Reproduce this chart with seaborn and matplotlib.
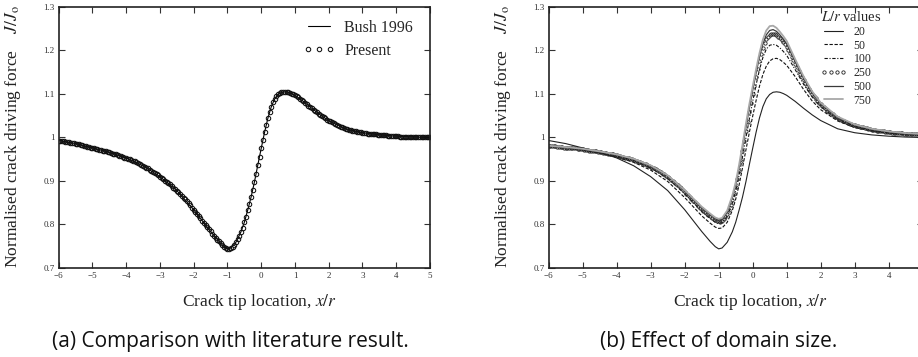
import numpy as np
import matplotlib
matplotlib.use('Agg')
import matplotlib.pyplot as plt
import seaborn as sns

sns.set_style('ticks')
plt.rcParams['font.family'] = ['Liberation Serif', 'DejaVu Serif']
plt.rcParams['mathtext.fontset'] = 'stix'
plt.rcParams['axes.linewidth'] = 1.2

#%% data
# sample positions (x/r) of the densely sampled "Present" and L/r=250 series
x_fine = np.round(np.arange(-6.0, 5.001, 0.05), 2)

# sample positions of the plain line series
x_line = [-6, -5.5, -5, -4.5, -4, -3.5, -3, -2.5, -2, -1.75, -1.5, -1.25, -1.1, -1,
          -0.9, -0.75, -0.6, -0.5, -0.4, -0.3, -0.2, -0.1, 0, 0.1, 0.2, 0.3, 0.4,
          0.5, 0.6, 0.7, 0.8, 0.9, 1.0, 1.25, 1.5, 1.75, 2, 2.5, 3, 3.5, 4, 4.5, 5]

# (a) Bush 1996 (also the L/r = 20 curve of panel b)
j_bush = [0.993, 0.986, 0.976, 0.966, 0.953, 0.935, 0.910, 0.878, 0.834, 0.809, 0.784,
          0.761, 0.749, 0.744, 0.746, 0.759, 0.783, 0.805, 0.833, 0.863, 0.898, 0.937,
          0.975, 1.012, 1.045, 1.071, 1.089, 1.099, 1.104, 1.105, 1.104, 1.101, 1.097,
          1.083, 1.067, 1.052, 1.039, 1.020, 1.011, 1.006, 1.003, 1.001, 1.000]

# (a) Present
j_present = [
    # -6.00 .. -1.00
    0.993, 0.993, 0.992, 0.991, 0.990, 0.990, 0.989, 0.988, 0.987, 0.987,
    0.986, 0.985, 0.984, 0.983, 0.982, 0.981, 0.980, 0.979, 0.978, 0.977,
    0.976, 0.975, 0.974, 0.973, 0.972, 0.971, 0.970, 0.969, 0.968, 0.967,
    0.966, 0.965, 0.963, 0.962, 0.961, 0.960, 0.958, 0.957, 0.956, 0.954,
    0.953, 0.951, 0.950, 0.948, 0.946, 0.945, 0.943, 0.941, 0.939, 0.937,
    0.935, 0.933, 0.931, 0.929, 0.926, 0.924, 0.921, 0.919, 0.916, 0.913,
    0.910, 0.907, 0.904, 0.901, 0.898, 0.895, 0.892, 0.889, 0.885, 0.882,
    0.878, 0.874, 0.870, 0.866, 0.862, 0.858, 0.853, 0.849, 0.844, 0.839,
    0.834, 0.829, 0.824, 0.819, 0.814, 0.809, 0.804, 0.799, 0.794, 0.789,
    0.784, 0.779, 0.774, 0.770, 0.765, 0.761, 0.757, 0.753, 0.749, 0.746,
    0.744,
    # -0.95 .. 0.95
    0.743, 0.746, 0.749, 0.753, 0.759, 0.766, 0.774, 0.783, 0.793, 0.805,
    0.818, 0.833, 0.848, 0.863, 0.880, 0.898, 0.917, 0.937, 0.956, 0.975,
    0.994, 1.012, 1.029, 1.045, 1.059, 1.071, 1.081, 1.089, 1.095, 1.099,
    1.102, 1.104, 1.105, 1.105, 1.105, 1.104, 1.103, 1.101, 1.099,
    # 1.00 .. 5.00
    1.097, 1.095, 1.092, 1.089, 1.086, 1.083, 1.080, 1.077, 1.073, 1.070,
    1.067, 1.064, 1.061, 1.058, 1.055, 1.052, 1.049, 1.047, 1.044, 1.041,
    1.039, 1.037, 1.035, 1.033, 1.031, 1.029, 1.027, 1.025, 1.023, 1.022,
    1.020, 1.019, 1.018, 1.017, 1.016, 1.015, 1.014, 1.013, 1.012, 1.012,
    1.011, 1.010, 1.010, 1.009, 1.009, 1.008, 1.008, 1.007, 1.007, 1.006,
    1.006, 1.006, 1.005, 1.005, 1.005, 1.004, 1.004, 1.004, 1.003, 1.003,
    1.003, 1.003, 1.002, 1.002, 1.002, 1.002, 1.002, 1.001, 1.001, 1.001,
    1.001, 1.001, 1.001, 1.001, 1.001, 1.000, 1.000, 1.000, 1.000, 1.000,
    1.000]

# (b) effect of domain size
j_l20 = j_bush
j_l50 = [0.981, 0.977, 0.971, 0.964, 0.955, 0.943, 0.925, 0.899, 0.862, 0.841, 0.820,
         0.803, 0.794, 0.791, 0.792, 0.805, 0.832, 0.858, 0.891, 0.930, 0.971, 1.011,
         1.049, 1.085, 1.118, 1.145, 1.164, 1.176, 1.181, 1.182, 1.179, 1.173, 1.166,
         1.140, 1.110, 1.084, 1.064, 1.038, 1.023, 1.015, 1.010, 1.007, 1.006]
j_l100 = [0.981, 0.977, 0.972, 0.966, 0.958, 0.947, 0.930, 0.906, 0.871, 0.851, 0.830,
          0.814, 0.805, 0.802, 0.804, 0.819, 0.849, 0.877, 0.913, 0.955, 0.999, 1.042,
          1.083, 1.121, 1.156, 1.184, 1.203, 1.212, 1.214, 1.212, 1.206, 1.198, 1.189,
          1.156, 1.122, 1.093, 1.071, 1.042, 1.026, 1.017, 1.011, 1.008, 1.006]
j_l250 = [
    # -6.00 .. -1.00
    0.981, 0.981, 0.980, 0.980, 0.980, 0.979, 0.979, 0.978, 0.978, 0.977,
    0.977, 0.976, 0.976, 0.975, 0.975, 0.975, 0.975, 0.974, 0.974, 0.973,
    0.973, 0.972, 0.972, 0.971, 0.970, 0.970, 0.969, 0.968, 0.968, 0.967,
    0.967, 0.966, 0.965, 0.964, 0.964, 0.963, 0.962, 0.961, 0.961, 0.960,
    0.959, 0.958, 0.957, 0.956, 0.955, 0.954, 0.953, 0.952, 0.951, 0.950,
    0.949, 0.947, 0.946, 0.944, 0.943, 0.941, 0.940, 0.938, 0.937, 0.935,
    0.933, 0.931, 0.929, 0.927, 0.925, 0.922, 0.920, 0.917, 0.915, 0.912,
    0.909, 0.906, 0.903, 0.900, 0.897, 0.893, 0.890, 0.886, 0.883, 0.879,
    0.875, 0.871, 0.867, 0.863, 0.859, 0.855, 0.851, 0.847, 0.843, 0.839,
    0.835, 0.831, 0.828, 0.825, 0.822, 0.819, 0.816, 0.813, 0.810, 0.808,
    0.807,
    # -0.95 .. 0.95
    0.806, 0.809, 0.813, 0.818, 0.825, 0.834, 0.845, 0.857, 0.871, 0.886,
    0.904, 0.924, 0.946, 0.968, 0.991, 1.014, 1.036, 1.058, 1.079, 1.099,
    1.119, 1.139, 1.158, 1.176, 1.192, 1.205, 1.217, 1.226, 1.232, 1.236,
    1.238, 1.238, 1.237, 1.235, 1.232, 1.228, 1.224, 1.219, 1.214,
    # 1.00 .. 5.00
    1.209, 1.202, 1.194, 1.186, 1.178, 1.170, 1.162, 1.154, 1.147, 1.139,
    1.132, 1.125, 1.119, 1.112, 1.106, 1.100, 1.095, 1.090, 1.085, 1.080,
    1.076, 1.072, 1.069, 1.065, 1.062, 1.059, 1.056, 1.053, 1.050, 1.047,
    1.045, 1.043, 1.041, 1.039, 1.037, 1.035, 1.034, 1.032, 1.031, 1.029,
    1.028, 1.027, 1.026, 1.025, 1.024, 1.023, 1.022, 1.021, 1.020, 1.019,
    1.018, 1.018, 1.017, 1.016, 1.016, 1.015, 1.014, 1.014, 1.013, 1.013,
    1.012, 1.012, 1.011, 1.011, 1.011, 1.010, 1.010, 1.010, 1.010, 1.009,
    1.009, 1.009, 1.009, 1.008, 1.008, 1.008, 1.008, 1.007, 1.007, 1.007,
    1.007]
j_l500 = [0.981, 0.978, 0.973, 0.967, 0.960, 0.950, 0.934, 0.911, 0.877, 0.857, 0.838,
          0.822, 0.813, 0.810, 0.812, 0.828, 0.861, 0.891, 0.930, 0.975, 1.022, 1.067,
          1.108, 1.148, 1.185, 1.215, 1.236, 1.246, 1.248, 1.244, 1.236, 1.226, 1.215,
          1.174, 1.135, 1.102, 1.077, 1.046, 1.029, 1.019, 1.013, 1.009, 1.007]
j_l750 = [0.981, 0.978, 0.974, 0.968, 0.961, 0.951, 0.936, 0.913, 0.879, 0.860, 0.841,
          0.825, 0.816, 0.813, 0.815, 0.832, 0.866, 0.897, 0.937, 0.983, 1.031, 1.076,
          1.117, 1.157, 1.194, 1.225, 1.246, 1.256, 1.257, 1.252, 1.243, 1.233, 1.222,
          1.180, 1.140, 1.106, 1.080, 1.048, 1.030, 1.020, 1.014, 1.010, 1.008]

y_ticks = [0.7, 0.8, 0.9, 1.0, 1.1, 1.2, 1.3]
y_ticklabels = ['0.7', '0.8', '0.9', '1', '1.1', '1.2', '1.3']
x_ticks = [-6, -5, -4, -3, -2, -1, 0, 1, 2, 3, 4, 5]
x_ticklabels = ['\u22126', '\u22125', '\u22124', '\u22123', '\u22122', '\u22121',
                '0', '1', '2', '3', '4', '5']

#%% figure
fig = plt.figure(figsize=(9.18, 3.57), dpi=100)
ax_a = fig.add_axes([0.0639, 0.2493, 0.4045, 0.7311])
ax_b = fig.add_axes([0.5977, 0.2493, 0.4074, 0.7311])

ylab = 'Normalised crack driving force    $J/J_{\\rm o}$'
for ax in (ax_a, ax_b):
    ax.set_xlim(-6, 5)
    ax.set_ylim(0.7, 1.3)
    ax.set_xticks(x_ticks)
    ax.set_xticklabels(x_ticklabels)
    ax.set_yticks(y_ticks)
    ax.set_yticklabels(y_ticklabels)
    ax.tick_params(direction='in', top=True, right=True, length=4, width=0.8,
                   labelsize=6.5, pad=3, colors='#333333', labelcolor='#333333')
    ax.set_xlabel('Crack tip location, $x/r$', fontsize=12.5, color='#222222')
    ax.set_ylabel(ylab, fontsize=12.5, color='#222222')
    ax.xaxis.set_label_coords(0.54, -0.13)
    ax.xaxis.label.set_va('center')
    ax.yaxis.set_label_coords(-0.123, 0.505)
    ax.yaxis.label.set_va('center')
    for sp in ax.spines.values():
        sp.set_color('#222222')

# (a)
sns.lineplot(x=x_line, y=j_bush, ax=ax_a, color='k', lw=0.8, estimator=None,
             sort=False, label='Bush 1996')
sns.lineplot(x=x_fine, y=j_present, ax=ax_a, color='k', linestyle='none', marker='o',
             markersize=3.2, markerfacecolor='none', markeredgecolor='#111111',
             markeredgewidth=0.75, estimator=None, sort=False, label='Present')
ax_a.legend(loc='upper left', bbox_to_anchor=(0.330, 0.945), bbox_transform=fig.transFigure,
            frameon=False, fontsize=11.5, numpoints=3, handlelength=2.0,
            handletextpad=0.6, labelspacing=0.45, borderpad=0, borderaxespad=0)

# (b)
sns.lineplot(x=x_line, y=j_l20, ax=ax_b, color='#222222', lw=0.8, estimator=None,
             sort=False, label='20')
sns.lineplot(x=x_line, y=j_l50, ax=ax_b, color='#111111', lw=0.8, linestyle=(0, (3, 1.5)),
             estimator=None, sort=False, label='50')
sns.lineplot(x=x_line, y=j_l100, ax=ax_b, color='#111111', lw=0.8,
             linestyle=(0, (3, 1.5, 1, 1.5)), estimator=None, sort=False, label='100')
sns.lineplot(x=x_fine, y=j_l250, ax=ax_b, color='k', linestyle='none', marker='o',
             markersize=2.4, markerfacecolor='none', markeredgecolor='#222222',
             markeredgewidth=0.6, estimator=None, sort=False, label='250')
sns.lineplot(x=x_line, y=j_l500, ax=ax_b, color='#3a3a3a', lw=0.9, estimator=None,
             sort=False, label='500')
sns.lineplot(x=x_line, y=j_l750, ax=ax_b, color='#a8a8a8', lw=1.3, estimator=None,
             sort=False, label='750')
ax_b.legend(loc='upper left', bbox_to_anchor=(0.894, 0.972), bbox_transform=fig.transFigure,
            frameon=False, fontsize=8.5, numpoints=4, handlelength=2.2,
            handletextpad=0.6, labelspacing=0.15, borderpad=0, borderaxespad=0,
            title='$L/r$ values', title_fontsize=10.5, alignment='left')

# captions
fig.text(0.251, 0.043, '(a) Comparison with literature result.', ha='center', va='center',
         fontsize=15, family='Open Sans', color='#111111')
fig.text(0.783, 0.043, '(b) Effect of domain size.', ha='center', va='center',
         fontsize=15, family='Open Sans', color='#111111')

fig.savefig('out.png', dpi=100)
